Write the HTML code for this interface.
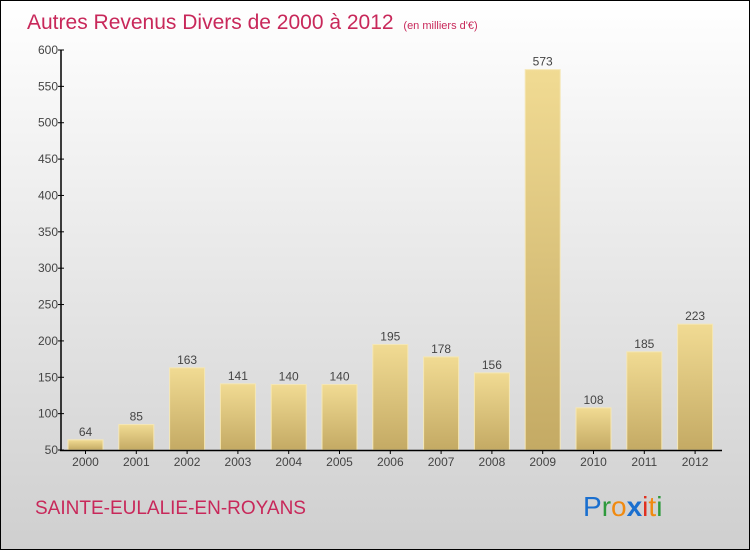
<!DOCTYPE html>
<html><head><meta charset="utf-8"><style>
html,body{margin:0;padding:0}
body{width:750px;height:550px;overflow:hidden;font-family:"Liberation Sans",sans-serif}
#wrap{position:relative;width:748px;height:548px;border:1px solid #000;background:linear-gradient(#ffffff,#cfcfcf)}
</style></head><body>
<div id="wrap">
<svg id="chart" width="748" height="548" viewBox="1 1 748 548" style="position:absolute;left:0;top:0">
<defs>
<linearGradient id="bg" x1="0" y1="0" x2="0" y2="1"><stop offset="0" stop-color="#f1db93"/><stop offset="1" stop-color="#c4aa64"/></linearGradient>
</defs>
<text x="27" y="29" font-size="21" fill="#c8285a">Autres Revenus Divers de 2000 à 2012 <tspan font-size="11" dx="4">(en milliers d'€)</tspan></text>
<g id="yaxis"></g>
<g id="bars"></g>
<g id="xaxis"></g>
<text x="35" y="514" font-size="19" fill="#c8285a">SAINTE-EULALIE-EN-ROYANS</text>
<g font-size="28" font-family="'Liberation Sans',sans-serif">
<text x="583" y="516"><tspan fill="#1a6fcf">P</tspan><tspan fill="#2e9a3c">r</tspan><tspan fill="#f08a10">o</tspan><tspan fill="#1a6fcf" font-weight="bold">x</tspan><tspan fill="#e03020">i</tspan><tspan fill="#f08a10">t</tspan><tspan fill="#2e9a3c">i</tspan></text>
</g>
</svg>
</div>
<script>
const years=["2000","2001","2002","2003","2004","2005","2006","2007","2008","2009","2010","2011","2012"];
const values=[64,85,163,141,140,140,195,178,156,573,108,185,223];
const yTicks=[50,100,150,200,250,300,350,400,450,500,550,600];
const NS="http://www.w3.org/2000/svg";
const y0=450,y1=50,vmin=50,vmax=600;
function yScale(v){return y0-(v-vmin)/(vmax-vmin)*(y0-y1);}
function xScale(i){return 85.5+i*50.8;}
const bw=35;
function mk(tag,attrs,parent){const e=document.createElementNS(NS,tag);for(const k in attrs)e.setAttribute(k,attrs[k]);parent.appendChild(e);return e;}
const ya=document.getElementById('yaxis'),ba=document.getElementById('bars'),xa=document.getElementById('xaxis');
yTicks.forEach(t=>{
  const y=yScale(t);
  const l=mk('line',{x1:58,x2:64,y1:y,y2:y,stroke:'#000'},ya);
  
  
  const tx=mk('text',{x:58,y:y+4,'text-anchor':'end','font-size':12,fill:'#444'},ya);
  tx.textContent=t;
  
  
});
values.forEach((v,i)=>{
  const cx=xScale(i),top=yScale(v);
  const r=mk('rect',{x:cx-bw/2,y:top,width:bw,height:y0-top,fill:'url(#bg)',stroke:'#f5e7b5','stroke-width':1},ba);
  
  
  const lb=mk('text',{x:cx,y:top-4,'text-anchor':'middle','font-size':12,fill:'#444'},ba);
  lb.textContent=v;
  
  
  const xl=mk('text',{x:cx,y:466,'text-anchor':'middle','font-size':12,fill:'#444'},xa);
  xl.textContent=years[i];
  
  
  const tk=mk('line',{x1:cx,x2:cx,y1:450,y2:454,stroke:'#000'},xa);
  
  
});
const al=mk('line',{x1:61,x2:61,y1:50,y2:451,stroke:'#000','stroke-width':1.5},ya);


const bl=mk('line',{x1:60,x2:722,y1:450.5,y2:450.5,stroke:'#000','stroke-width':1.5},xa);


</script>
</body></html>
